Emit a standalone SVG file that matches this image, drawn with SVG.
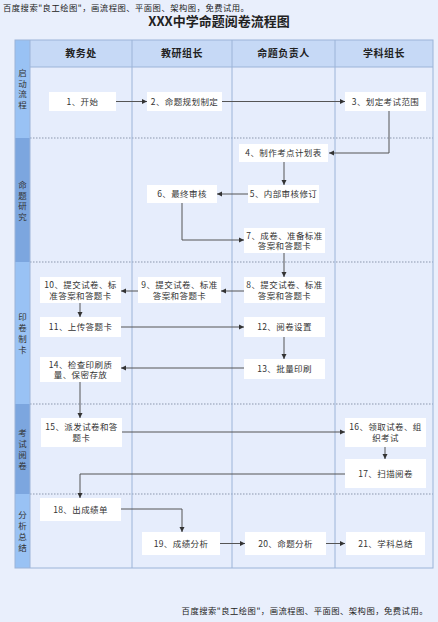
<svg xmlns="http://www.w3.org/2000/svg" width="438" height="622" viewBox="0 0 438 622">
<style>
.t{font-family:"Noto Sans CJK SC","Liberation Sans",sans-serif;fill:#222}
.w{font-size:8.3px;letter-spacing:0.5px}
.n rect{fill:#ffffff}
.n text{font-family:"Noto Sans CJK SC","Liberation Sans",sans-serif;font-size:8.5px;letter-spacing:0.4px;fill:#333;text-anchor:middle}
.h{font-family:"Noto Sans CJK SC","Liberation Sans",sans-serif;font-size:10px;letter-spacing:0.5px;font-weight:bold;fill:#222;text-anchor:middle}
.l{font-family:"Noto Sans CJK SC","Liberation Sans",sans-serif;font-size:8.5px;fill:#333;text-anchor:middle}
.c path{fill:none;stroke:#555;stroke-width:1;marker-end:url(#ah)}
.dot{stroke:#8b97ad;stroke-width:1;stroke-dasharray:1.5 1.5}
.col{stroke:#9cb4d8;stroke-width:1}
</style>
<defs>
<marker id="ah" markerUnits="userSpaceOnUse" markerWidth="6" markerHeight="6" refX="5" refY="3" orient="auto">
<path d="M0,0.5 L5,3 L0,5.5 Z" fill="#333"/>
</marker>
</defs>
<rect width="438" height="622" fill="#e9effc"/>
<text class="t w" x="3" y="11">百度搜索"良工绘图"，画流程图、平面图、架构图，免费试用。</text>
<text class="t" x="219" y="26" font-size="13" font-weight="bold" text-anchor="middle">XXX中学命题阅卷流程图</text>

<g id="table">
<rect x="15" y="40" width="418" height="528" fill="#e6edfc"/>
<rect x="15" y="40" width="418" height="27" fill="#c6d9f6"/>
<rect x="15" y="40" width="15" height="98" fill="#99c2f4"/>
<rect x="15" y="138" width="15" height="124" fill="#7ca6df"/>
<rect x="15" y="262" width="15" height="142" fill="#99c2f4"/>
<rect x="15" y="404" width="15" height="90" fill="#7ca6df"/>
<rect x="15" y="494" width="15" height="74" fill="#99c2f4"/>
<line class="dot" x1="30" y1="138" x2="433" y2="138"/>
<line class="dot" x1="30" y1="262" x2="433" y2="262"/>
<line class="dot" x1="30" y1="404" x2="433" y2="404"/>
<line class="dot" x1="30" y1="494" x2="433" y2="494"/>
<line class="col" x1="30" y1="40" x2="30" y2="568"/>
<line class="col" x1="132" y1="40" x2="132" y2="568"/>
<line class="col" x1="232" y1="40" x2="232" y2="568"/>
<line class="col" x1="335" y1="40" x2="335" y2="568"/>
<line class="col" x1="30" y1="67" x2="433" y2="67"/>
<rect x="15" y="40" width="418" height="528" fill="none" stroke="#9cb4d8" stroke-width="1"/>
<text class="h" x="81" y="57">教务处</text>
<text class="h" x="182" y="57">教研组长</text>
<text class="h" x="283.5" y="57">命题负责人</text>
<text class="h" x="384" y="57">学科组长</text>
<text class="l" x="22.5" y="76">启</text>
<text class="l" x="22.5" y="86.5">动</text>
<text class="l" x="22.5" y="97">流</text>
<text class="l" x="22.5" y="107.5">程</text>
<text class="l" x="22.5" y="188">命</text>
<text class="l" x="22.5" y="198.5">题</text>
<text class="l" x="22.5" y="209">研</text>
<text class="l" x="22.5" y="219.5">究</text>
<text class="l" x="22.5" y="320">印</text>
<text class="l" x="22.5" y="331">卷</text>
<text class="l" x="22.5" y="342">制</text>
<text class="l" x="22.5" y="353">卡</text>
<text class="l" x="22.5" y="436">考</text>
<text class="l" x="22.5" y="447">试</text>
<text class="l" x="22.5" y="458">阅</text>
<text class="l" x="22.5" y="469">卷</text>
<text class="l" x="22.5" y="518">分</text>
<text class="l" x="22.5" y="529">析</text>
<text class="l" x="22.5" y="540">总</text>
<text class="l" x="22.5" y="551">结</text>
</g>

<g class="c" id="connectors">
<path d="M116,101.5 H147"/>
<path d="M222,101.5 H345"/>
<path d="M389,111 V153 H329"/>
<path d="M284,162 V185"/>
<path d="M248,194 H217"/>
<path d="M182,203 V240 H244"/>
<path d="M284,253 V277"/>
<path d="M244,291 H221"/>
<path d="M138,291 H121"/>
<path d="M80,303 V317"/>
<path d="M121,327 H244"/>
<path d="M284,337 V359"/>
<path d="M244,368 H121"/>
<path d="M80,382 V418"/>
<path d="M122,432 H345"/>
<path d="M385,447 V459"/>
<path d="M345,474 H80 V498"/>
<path d="M121,509 H182 V532"/>
<path d="M220,543.5 H245"/>
<path d="M326,543.5 H345"/>
</g>

<g class="n" id="n1"><rect x="49" y="92" width="67" height="19"/><text x="82.5" y="104.5">1、开始</text></g>
<g class="n" id="n2"><rect x="147" y="92" width="75" height="19"/><text x="184.5" y="104.5">2、命题规划制定</text></g>
<g class="n" id="n3"><rect x="345" y="92" width="81" height="19"/><text x="385.5" y="104.5">3、划定考试范围</text></g>
<g class="n" id="n4"><rect x="239" y="144" width="89" height="18"/><text x="283.5" y="156">4、制作考点计划表</text></g>
<g class="n" id="n5"><rect x="248" y="185" width="71" height="18"/><text x="283.5" y="197">5、内部审核修订</text></g>
<g class="n" id="n6"><rect x="147" y="185" width="70" height="18"/><text x="182" y="197">6、最终审核</text></g>
<g class="n" id="n7"><rect x="244" y="228" width="81" height="25"/><text x="284.5" y="238.5">7、成卷、准备标准</text><text x="284.5" y="249">答案和答题卡</text></g>
<g class="n" id="n8"><rect x="244" y="277" width="81" height="26"/><text x="284.5" y="288">8、提交试卷、标准</text><text x="284.5" y="298.5">答案和答题卡</text></g>
<g class="n" id="n9"><rect x="138" y="277" width="83" height="26"/><text x="179.5" y="288">9、提交试卷、标准</text><text x="179.5" y="298.5">答案和答题卡</text></g>
<g class="n" id="n10"><rect x="40" y="277" width="81" height="26"/><text x="80.5" y="288">10、提交试卷、标</text><text x="80.5" y="298.5">准答案和答题卡</text></g>
<g class="n" id="n11"><rect x="40" y="317" width="81" height="20"/><text x="80.5" y="330">11、上传答题卡</text></g>
<g class="n" id="n12"><rect x="244" y="317" width="81" height="20"/><text x="284.5" y="330">12、阅卷设置</text></g>
<g class="n" id="n13"><rect x="244" y="359" width="81" height="20"/><text x="284.5" y="372">13、批量印刷</text></g>
<g class="n" id="n14"><rect x="40" y="357" width="81" height="25"/><text x="80.5" y="367.5">14、检查印刷质</text><text x="80.5" y="378">量、保密存放</text></g>
<g class="n" id="n15"><rect x="41" y="418" width="81" height="29"/><text x="81.5" y="430">15、派发试卷和答</text><text x="81.5" y="441">题卡</text></g>
<g class="n" id="n16"><rect x="345" y="418" width="81" height="29"/><text x="385.5" y="430">16、领取试卷、组</text><text x="385.5" y="441">织考试</text></g>
<g class="n" id="n17"><rect x="345" y="459" width="81" height="29"/><text x="385.5" y="477">17、扫描阅卷</text></g>
<g class="n" id="n18"><rect x="40" y="498" width="81" height="23"/><text x="80.5" y="512.5">18、出成绩单</text></g>
<g class="n" id="n19"><rect x="142" y="532" width="78" height="23"/><text x="181" y="546.5">19、成绩分析</text></g>
<g class="n" id="n20"><rect x="245" y="532" width="81" height="23"/><text x="285.5" y="546.5">20、命题分析</text></g>
<g class="n" id="n21"><rect x="346" y="532" width="79" height="23"/><text x="385.5" y="546.5">21、学科总结</text></g>

<text class="t w" x="428" y="614" text-anchor="end">百度搜索"良工绘图"，画流程图、平面图、架构图，免费试用。</text>
</svg>
